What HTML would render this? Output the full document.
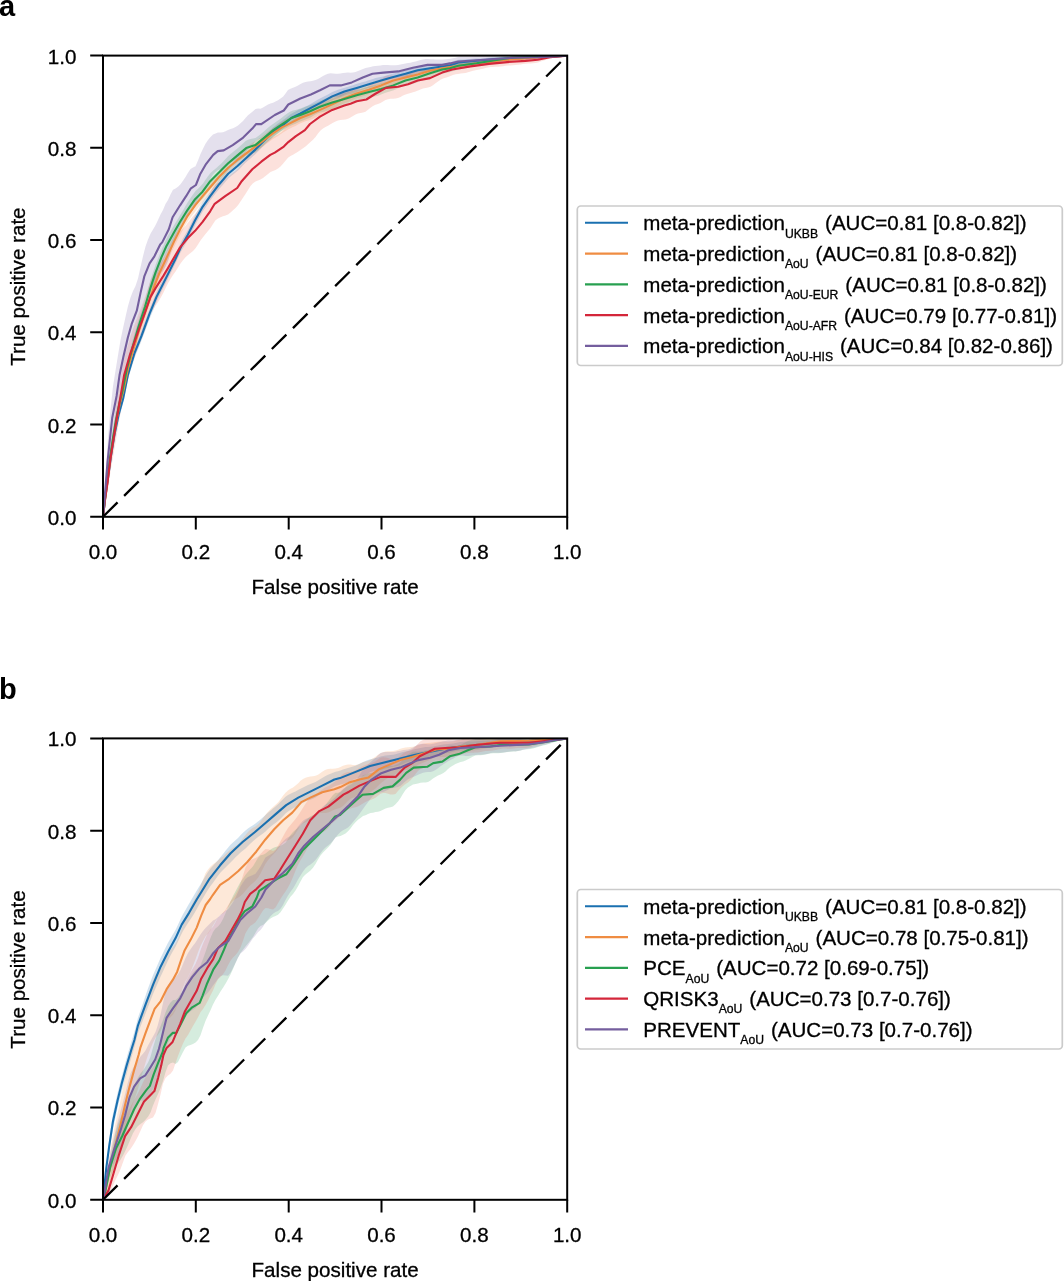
<!DOCTYPE html>
<html lang="en">
<head>
<meta charset="utf-8">
<title>ROC curves</title>
<style>
html,body{margin:0;padding:0;background:#fff;}
body{width:1064px;height:1281px;overflow:hidden;}
svg{display:block;}
svg text{stroke:#000;stroke-width:0.3px;}
</style>
</head>
<body>
<svg width="1064" height="1281" viewBox="0 0 1064 1281" font-family='"Liberation Sans", Arial, Helvetica, sans-serif' fill="#000">
<rect width="1064" height="1281" fill="#fff"/>
<text x="-1" y="15.8" font-size="29" font-weight="bold" style="stroke:none">a</text>
<text x="-1" y="699.4" font-size="29" font-weight="bold" style="stroke:none">b</text>
<clipPath id="clipa"><rect x="103" y="55.6" width="464.2" height="461.2"/></clipPath>
<g clip-path="url(#clipa)">
<polygon points="103,516.8 105.5,493.6 108,474.2 110.5,454.5 113,438.7 115.5,424.7 118,412.4 120.5,402.8 123,394 125.5,382 128,370 130.5,361.9 133,353.6 135.5,346 138,339.7 140.5,333.3 143,326.6 145.5,319.7 148,313 150.5,306.5 153,300.4 155.5,294.3 158,288.8 160.5,283.8 163,279 165.5,274.2 168,269.4 170.5,264.6 173,259.6 175.5,254.4 178,248.7 180.5,243.1 183,238.3 185.5,234 188,229.7 190.5,224.7 193,219.6 195.5,214.6 198,209.9 200.5,205.4 203,201.2 205.5,197.9 208,194.7 210.5,191.4 213,188.1 215.5,184.7 218,181.2 220.5,178 223,175.1 225.5,172.3 228,169.4 230.5,167.2 233,165 235.5,162.7 238,160.4 240.5,158 243,155.8 245.5,153.7 248,151.7 250.5,149.5 253,147.3 255.5,144.9 258,142.4 260.5,139.9 263,137.5 265.5,135.1 268,132.7 270.5,130.1 273,127.4 275.5,125.4 278,123.5 280.5,121.8 283,120.1 285.5,118.2 288,116.3 290.5,114.2 293,112.7 295.5,111.4 298,110.1 300.5,109 303,107.9 305.5,106.7 308,105.4 310.5,104 313,102.5 315.5,101 318,99.6 320.5,98.3 323,97 325.5,95.7 328,94.4 330.5,93 333,91.7 335.5,90.7 338,89.8 340.5,88.9 343,88.2 345.5,87.5 348,86.8 350.5,86 353,85.2 355.5,84.3 358,83.5 360.5,82.8 363,82.1 365.5,81.4 368,80.6 370.5,79.7 373,78.9 375.5,78.1 378,77.5 380.5,76.9 383,76.4 385.5,75.8 388,75.1 390.5,74.3 393,73.5 395.5,72.9 398,72.2 400.5,71.7 403,71.1 405.5,70.5 408,69.7 410.5,68.8 413,68 415.5,67.3 418,66.7 420.5,66.4 423,66.2 425.5,66 428,65.6 430.5,65.3 433,64.9 435.5,64.6 438,64.3 440.5,64 443,63.7 445.5,63.4 448,62.9 450.5,62.3 453,61.4 455.5,60.5 458,59.8 460.5,59.6 463,59.5 465.5,59.3 468,59.1 470.5,58.9 473,58.7 475.5,58.5 478,58.5 480.5,58.4 483,58.2 485.5,58 488,57.8 490.5,57.5 493,57.3 495.5,57.1 498,57 500.5,56.9 503,56.8 505.5,56.7 508,56.5 510.5,56.4 513,56.3 515.5,56.4 518,56.4 520.5,56.5 523,56.5 525.5,56.5 528,56.4 530.5,56.4 533,56.3 535.5,56.3 538,56.3 540.5,56.3 543,56.2 545.5,56.1 548,56.1 550.5,56 553,56 555.5,55.9 558,55.9 560.5,55.8 563,55.7 565.5,55.7 567.2,55.6 567.2,55.6 565.5,55.7 563,56 560.5,56.2 558,56.4 555.5,56.6 553,56.9 550.5,57.1 548,57.3 545.5,57.5 543,57.7 540.5,57.9 538,58.1 535.5,58.2 533,58.3 530.5,58.5 528,58.6 525.5,58.8 523,59 520.5,59.1 518,59.2 515.5,59.4 513,59.7 510.5,60 508,60.3 505.5,60.5 503,60.7 500.5,60.9 498,61.1 495.5,61.3 493,61.6 490.5,61.8 488,61.9 485.5,62.1 483,62.3 480.5,62.7 478,63 475.5,63.4 473,63.7 470.5,63.9 468,64.2 465.5,64.4 463,64.7 460.5,65 458,65.3 455.5,66.1 453,66.9 450.5,67.6 448,68.1 445.5,68.6 443,69.2 440.5,69.7 438,70.1 435.5,70.5 433,70.9 430.5,71.3 428,71.9 425.5,72.4 423,72.8 420.5,73.1 418,73.3 415.5,73.9 413,74.7 410.5,75.5 408,76.4 405.5,77.2 403,77.8 400.5,78.4 398,79.1 395.5,79.9 393,80.8 390.5,81.7 388,82.4 385.5,83 383,83.6 380.5,84.3 378,85.1 375.5,85.9 373,86.7 370.5,87.4 368,88 365.5,88.7 363,89.6 360.5,90.6 358,91.6 355.5,92.5 353,93.2 350.5,93.9 348,94.5 345.5,95.3 343,96.3 340.5,97.3 338,98.3 335.5,99.1 333,99.9 330.5,101.1 328,102.6 325.5,104.2 323,105.7 320.5,107.2 318,108.5 315.5,109.8 313,111.2 310.5,112.6 308,114.1 305.5,115.6 303,116.8 300.5,118 298,119 295.5,120.1 293,121.4 290.5,123.1 288,125.3 285.5,127.4 283,129.4 280.5,131.2 278,133 275.5,134.9 273,136.9 270.5,139.4 268,141.8 265.5,144.1 263,146.4 260.5,148.9 258,151.4 255.5,154 253,156.2 250.5,158.4 248,160.5 245.5,162.8 243,165.3 240.5,167.9 238,170.4 235.5,172.6 233,174.6 230.5,176.6 228,178.7 225.5,181.7 223,184.7 220.5,187.6 218,190.5 215.5,193.6 213,196.8 210.5,200.1 208,203.7 205.5,207.4 203,211.1 200.5,215.5 198,219.9 195.5,224.4 193,229.4 190.5,234.6 188,239.7 185.5,244.1 183,248.2 180.5,252.6 178,257.9 175.5,263.3 173,268.5 170.5,273.7 168,278.8 165.5,283.7 163,288.6 160.5,293.7 158,298.8 155.5,304.5 153,310.8 150.5,316.8 148,323.2 145.5,329.9 143,336.6 140.5,343.2 138,349.4 135.5,355.5 133,362.9 130.5,371 128,379.2 125.5,391.5 123,403.8 120.5,413 118,422.8 115.5,435 113,448.9 110.5,464.8 108,481.6 105.5,497.4 103,516.8" fill="#1a70b0" fill-opacity="0.2" stroke="none"/>
<polygon points="103,516.8 105.5,494 108,472.3 110.5,450.2 113,434.6 115.5,419.7 118,406.6 120.5,395.3 123,386.1 125.5,374.6 128,362.6 130.5,353.8 133,345 135.5,336.7 138,328.5 140.5,320.5 143,313 145.5,305.4 148,297.9 150.5,290.4 153,283.2 155.5,276.8 158,270.6 160.5,264.9 163,259.5 165.5,254.1 168,248.6 170.5,243.3 173,238.1 175.5,233.1 178,228.3 180.5,223.3 183,218.6 185.5,213.9 188,209.3 190.5,205.7 193,202.2 195.5,198.9 198,195.9 200.5,192.8 203,189.7 205.5,186.6 208,183.7 210.5,180.9 213,178.3 215.5,175.6 218,172.9 220.5,170.2 223,167.6 225.5,164.9 228,162.2 230.5,160.1 233,158 235.5,156 238,153.9 240.5,151.9 243,149.8 245.5,147.8 248,145.9 250.5,144.2 253,142.6 255.5,141 258,139.3 260.5,137.4 263,135.4 265.5,133.5 268,131.6 270.5,129.8 273,128 275.5,126.4 278,124.6 280.5,122.7 283,120.9 285.5,119.5 288,118.2 290.5,117.1 293,116.1 295.5,115 298,113.9 300.5,112.6 303,111.6 305.5,110.7 308,109.8 310.5,109 313,108.1 315.5,107 318,105.8 320.5,104.5 323,103.2 325.5,101.9 328,100.8 330.5,99.8 333,98.8 335.5,97.7 338,96.5 340.5,95.2 343,94 345.5,93 348,92.2 350.5,91.4 353,90.6 355.5,89.7 358,88.7 360.5,87.8 363,86.9 365.5,86 368,85.3 370.5,84.6 373,83.8 375.5,82.9 378,82 380.5,81 383,80.1 385.5,79.2 388,78.4 390.5,77.7 393,76.9 395.5,76.3 398,75.6 400.5,74.9 403,74.2 405.5,73.6 408,73 410.5,72.5 413,71.9 415.5,71.2 418,70.5 420.5,69.7 423,69 425.5,68.4 428,67.9 430.5,67.4 433,67 435.5,66.6 438,66.1 440.5,65.5 443,65.1 445.5,64.8 448,64.5 450.5,64.2 453,63.9 455.5,63.5 458,63.1 460.5,62.6 463,62.3 465.5,62.1 468,61.8 470.5,61.6 473,61.3 475.5,61 478,60.7 480.5,60.5 483,60.4 485.5,60.3 488,60.1 490.5,59.9 493,59.5 495.5,59.1 498,58.6 500.5,58.3 503,58.1 505.5,58 508,57.9 510.5,57.9 513,57.7 515.5,57.6 518,57.5 520.5,57.4 523,57.3 525.5,57.2 528,57.2 530.5,57.1 533,56.9 535.5,56.8 538,56.6 540.5,56.5 543,56.4 545.5,56.3 548,56.2 550.5,56.1 553,56.1 555.5,56 558,55.9 560.5,55.8 563,55.7 565.5,55.7 567.2,55.6 567.2,55.6 565.5,55.8 563,56 560.5,56.2 558,56.5 555.5,56.7 553,57 550.5,57.2 548,57.4 545.5,57.6 543,57.8 540.5,58.1 538,58.3 535.5,58.6 533,58.9 530.5,59.1 528,59.3 525.5,59.6 523,59.9 520.5,60.2 518,60.6 515.5,60.8 513,61.1 510.5,61.3 508,61.5 505.5,61.8 503,62.1 500.5,62.4 498,62.8 495.5,63.1 493,63.4 490.5,63.9 488,64.3 485.5,64.7 483,65.1 480.5,65.4 478,65.7 475.5,66 473,66.5 470.5,66.9 468,67.4 465.5,67.8 463,68.1 460.5,68.3 458,68.6 455.5,69 453,69.5 450.5,70 448,70.4 445.5,70.8 443,71.2 440.5,71.8 438,72.5 435.5,73.2 433,73.9 430.5,74.4 428,74.9 425.5,75.5 423,76.2 420.5,77 418,77.9 415.5,78.6 413,79.2 410.5,79.8 408,80.4 405.5,81.2 403,82.1 400.5,83 398,83.7 395.5,84.3 393,84.9 390.5,85.8 388,86.8 385.5,87.9 383,89 380.5,89.9 378,90.6 375.5,91.4 373,92.2 370.5,93.3 368,94.4 365.5,95.4 363,96.3 360.5,97 358,97.7 355.5,98.6 353,99.8 350.5,100.9 348,102 345.5,102.8 343,103.7 340.5,104.8 338,106 335.5,107.4 333,108.9 330.5,110.2 328,111.3 325.5,112.4 323,113.6 320.5,114.9 318,116.3 315.5,117.6 313,118.8 310.5,119.7 308,120.5 305.5,121.2 303,122.2 300.5,123.3 298,124.6 295.5,125.9 293,127 290.5,128.2 288,129.5 285.5,131 283,132.5 280.5,134.3 278,136 275.5,137.5 273,139 270.5,140.8 268,142.7 265.5,144.6 263,146.5 260.5,148.2 258,149.8 255.5,151.5 253,153.4 250.5,155.6 248,157.8 245.5,159.8 243,161.7 240.5,163.5 238,165.4 235.5,167.5 233,169.7 230.5,171.9 228,173.9 225.5,176.1 223,178.3 220.5,180.6 218,183.4 215.5,186.5 213,189.6 210.5,192.6 208,195.5 205.5,198.4 203,201.4 200.5,204.7 198,208 195.5,211.2 193,214.5 190.5,217.7 188,220.9 185.5,225.1 183,229.7 180.5,234.3 178,239.2 175.5,244.2 173,249.2 170.5,254.6 168,260.2 165.5,266 163,271.7 160.5,277.2 158,282.9 155.5,289.1 153,295.4 150.5,302.7 148,310.1 145.5,317.4 143,324.6 140.5,331.6 138,339.4 135.5,347.7 133,356.3 130.5,365.5 128,374.6 125.5,386.7 123,398 120.5,407.2 118,418.8 115.5,432.3 113,447.5 110.5,463.2 108,481.3 105.5,498.3 103,516.8" fill="#f58a3c" fill-opacity="0.2" stroke="none"/>
<polygon points="103,516.8 105.5,492 108,469.2 110.5,447.1 113,430.3 115.5,415.4 118,402.9 120.5,391.8 123,381.4 125.5,368.9 128,357.4 130.5,348 133,338.8 135.5,330.2 138,321.6 140.5,313.9 143,306 145.5,297.9 148,289 150.5,280.1 153,272.4 155.5,264.9 158,258.6 160.5,252.3 163,246.4 165.5,240.7 168,235.6 170.5,231.2 173,226.9 175.5,222.8 178,218.7 180.5,214.5 183,210.4 185.5,206.1 188,201.8 190.5,198 193,194.4 195.5,191.1 198,188.7 200.5,186.2 203,183.4 205.5,179.8 208,176.3 210.5,173 213,170.8 215.5,168.7 218,166.6 220.5,164.3 223,161.7 225.5,159 228,156.3 230.5,154.1 233,152 235.5,150 238,147.9 240.5,145.7 243,143.4 245.5,141.1 248,139.8 250.5,139.1 253,138.6 255.5,138 258,136.2 260.5,134.3 263,132.2 265.5,130 268,127.8 270.5,125.8 273,123.9 275.5,122.3 278,120.6 280.5,118.8 283,116.8 285.5,114.8 288,113 290.5,111.4 293,110.5 295.5,110 298,109.3 300.5,108.6 303,107.6 305.5,106.6 308,105.7 310.5,105 313,104.1 315.5,103.1 318,102 320.5,100.7 323,99.5 325.5,98.4 328,97.5 330.5,96.7 333,96 335.5,95.4 338,94.8 340.5,94 343,93.2 345.5,92.5 348,92 350.5,91.5 353,91 355.5,90.5 358,89.8 360.5,89 363,88.1 365.5,87.3 368,86.7 370.5,86.1 373,85.6 375.5,85 378,84.4 380.5,83.6 383,82.9 385.5,82.2 388,81.6 390.5,81.2 393,80.7 395.5,79.9 398,78.9 400.5,77.8 403,76.7 405.5,75.7 408,75.1 410.5,74.6 413,74.1 415.5,73.5 418,72.7 420.5,71.7 423,70.8 425.5,70 428,69.4 430.5,68.8 433,68.3 435.5,67.6 438,66.9 440.5,66.1 443,65.5 445.5,65.2 448,65 450.5,64.6 453,63.9 455.5,63.1 458,62.3 460.5,61.8 463,61.4 465.5,61.2 468,61 470.5,60.8 473,60.6 475.5,60.4 478,60 480.5,59.7 483,59.3 485.5,59.1 488,58.8 490.5,58.5 493,58.2 495.5,57.8 498,57.3 500.5,56.8 503,56.5 505.5,56.2 508,56 510.5,55.7 513,55.7 515.5,55.6 518,55.6 520.5,55.6 523,55.6 525.5,55.7 528,55.7 530.5,55.8 533,55.7 535.5,55.7 538,55.6 540.5,55.6 543,55.6 545.5,55.6 548,55.6 550.5,55.6 553,55.6 555.5,55.6 558,55.6 560.5,55.6 563,55.6 565.5,55.6 567.2,55.6 567.2,55.6 565.5,55.7 563,55.9 560.5,56.1 558,56.3 555.5,56.4 553,56.6 550.5,56.8 548,57 545.5,57.2 543,57.4 540.5,57.6 538,57.8 535.5,58 533,58.3 530.5,58.5 528,58.7 525.5,58.8 523,58.9 520.5,59 518,59.2 515.5,59.5 513,59.7 510.5,59.9 508,60.4 505.5,60.8 503,61.3 500.5,62 498,62.6 495.5,63.1 493,63.5 490.5,63.9 488,64.2 485.5,64.7 483,65.2 480.5,65.7 478,66.1 475.5,66.4 473,66.7 470.5,67.1 468,67.6 465.5,68.1 463,68.7 460.5,69.2 458,69.6 455.5,70.4 453,71.1 450.5,72 448,72.6 445.5,73.1 443,73.4 440.5,73.9 438,74.5 435.5,75.2 433,76.2 430.5,77.2 428,78.2 425.5,79.2 423,80.1 420.5,81 418,82 415.5,82.9 413,83.7 410.5,84.4 408,84.9 405.5,85.3 403,86.2 400.5,87.2 398,88.3 395.5,89.5 393,90.5 390.5,91.2 388,91.9 385.5,92.7 383,93.7 380.5,94.8 378,95.7 375.5,96.3 373,96.8 370.5,97.3 368,97.8 365.5,98.4 363,99.2 360.5,99.8 358,100.4 355.5,100.9 353,101.5 350.5,102.3 348,103.4 345.5,104.5 343,105.5 340.5,106.3 338,107 335.5,107.6 333,108.4 330.5,109.4 328,110.4 325.5,111.2 323,111.9 320.5,112.5 318,113.3 315.5,114.5 313,115.9 310.5,117.4 308,118.5 305.5,119.5 303,120.4 300.5,121.5 298,122.5 295.5,123.7 293,124.7 290.5,125.7 288,127.1 285.5,128.4 283,129.9 280.5,131.6 278,133.4 275.5,135.2 273,136.9 270.5,138.9 268,140.9 265.5,143.2 263,145.7 260.5,148.1 258,150.4 255.5,152.4 253,153.1 250.5,153.7 248,154.4 245.5,155.7 243,157.9 240.5,159.9 238,161.8 235.5,163.6 233,165.6 230.5,168 228,170.5 225.5,173.4 223,176.1 220.5,178.6 218,180.9 215.5,183.4 213,186 210.5,188.7 208,192.1 205.5,195.3 203,198.4 200.5,200.7 198,203.1 195.5,205.7 193,209.4 190.5,213.2 188,216.8 185.5,220.6 183,224.5 180.5,228.7 178,233.2 175.5,237.9 173,242.3 170.5,246.5 168,250.5 165.5,255.1 163,260.6 160.5,266.7 158,273.2 155.5,279.7 153,287.2 150.5,294.6 148,303.1 145.5,311.9 143,320.2 140.5,328.2 138,336.1 135.5,344.6 133,353.1 130.5,362.1 128,371.5 125.5,382.9 123,395.5 120.5,405.8 118,416.9 115.5,429.4 113,444.4 110.5,461.4 108,479.5 105.5,497.1 103,516.8" fill="#2f9e5a" fill-opacity="0.2" stroke="none"/>
<polygon points="103,516.8 105.5,491.8 108,468.7 110.5,445.9 113,427.2 115.5,408.9 118,393.6 120.5,379.2 123,364.7 125.5,353.6 128,344.9 130.5,336.2 133,329.1 135.5,322.1 138,315.4 140.5,309.1 143,302.6 145.5,295.7 148,288.2 150.5,280.5 153,275.3 155.5,270.4 158,266.4 160.5,262.7 163,259.2 165.5,255.2 168,250.9 170.5,246.3 173,241.8 175.5,237.9 178,234.3 180.5,231.1 183,228.7 185.5,225.9 188,222.6 190.5,219.4 193,216.3 195.5,213.4 198,210.4 200.5,207.5 203,204.3 205.5,200.4 208,196.2 210.5,191.9 213,187.3 215.5,184 218,182.8 220.5,181.7 223,180.6 225.5,179 228,177 230.5,174.8 233,172.7 235.5,170.9 238,168.7 240.5,165.2 243,162.4 245.5,159.7 248,156.7 250.5,153.8 253,150.9 255.5,149 258,147.4 260.5,146 263,144.4 265.5,142.5 268,140.3 270.5,138.1 273,136.9 275.5,135.8 278,134.5 280.5,133 283,131.1 285.5,128.1 288,124.8 290.5,122 293,119.8 295.5,118.1 298,117 300.5,115.9 303,114.4 305.5,112.4 308,109.2 310.5,106.6 313,105.6 315.5,104.8 318,103.9 320.5,102.9 323,101.7 325.5,100.1 328,98.1 330.5,96.4 333,95.1 335.5,94.5 338,94 340.5,93.4 343,92.6 345.5,91.6 348,90.9 350.5,90.4 353,90 355.5,89.7 358,89.6 360.5,89.4 363,88.9 365.5,88.1 368,86.5 370.5,84.7 373,83.2 375.5,81.9 378,80.7 380.5,79.3 383,77.7 385.5,76 388,75.5 390.5,75.5 393,75.8 395.5,76.3 398,76.6 400.5,76.2 403,75.6 405.5,74.7 408,74 410.5,73.1 413,72.3 415.5,71.6 418,70.8 420.5,70.4 423,69.8 425.5,69.4 428,69.1 430.5,69.1 433,68.6 435.5,68.2 438,67.7 440.5,67 443,66 445.5,65.3 448,64.7 450.5,64.2 453,63.8 455.5,63.6 458,63.3 460.5,62.8 463,62.2 465.5,61.7 468,61.4 470.5,61.2 473,61.2 475.5,61.1 478,61 480.5,60.8 483,60.6 485.5,60.4 488,60.3 490.5,60.2 493,60.1 495.5,60 498,59.7 500.5,59.4 503,59 505.5,58.7 508,58.4 510.5,58.3 513,58.3 515.5,58.2 518,58 520.5,57.8 523,57.7 525.5,57.6 528,57.5 530.5,57.4 533,57.3 535.5,57.2 538,57 540.5,56.7 543,56.5 545.5,56.3 548,56.1 550.5,56 553,55.9 555.5,55.9 558,55.8 560.5,55.7 563,55.7 565.5,55.6 567.2,55.6 567.2,55.6 565.5,55.9 563,56.3 560.5,56.7 558,57.1 555.5,57.5 553,58 550.5,58.4 548,59.2 545.5,60 543,60.8 540.5,61.6 538,62.5 535.5,63 533,63.2 530.5,63.4 528,63.5 525.5,63.8 523,64 520.5,64.4 518,64.8 515.5,65.1 513,65.3 510.5,65.4 508,65.5 505.5,65.8 503,66.2 500.5,66.5 498,66.7 495.5,66.8 493,66.9 490.5,67.1 488,67.5 485.5,68.1 483,68.8 480.5,69.3 478,69.8 475.5,70.2 473,70.8 470.5,71.5 468,72.2 465.5,72.9 463,73.3 460.5,73.6 458,73.9 455.5,74.3 453,75 450.5,75.9 448,76.9 445.5,77.7 443,78.5 440.5,79.7 438,81.4 435.5,83.3 433,85.2 430.5,86.8 428,87.6 425.5,88.1 423,88.6 420.5,89.5 418,90.4 415.5,91.5 413,92.3 410.5,93 408,93.7 405.5,94.4 403,95.6 400.5,97 398,98.1 395.5,98.6 393,98.7 390.5,98.8 388,99.2 385.5,100 383,101.6 380.5,103 378,104 375.5,104.8 373,106 370.5,107.7 368,109.8 365.5,111.7 363,112.5 360.5,113.1 358,113.5 355.5,114.4 353,115.9 350.5,117.5 348,118.7 345.5,119.4 343,119.7 340.5,119.9 338,120.5 335.5,121.4 333,122.7 330.5,124.3 328,125.7 325.5,126.9 323,128.5 320.5,130.6 318,133.6 315.5,136.9 313,139.7 310.5,142 308,144.2 305.5,146.5 303,148.2 300.5,149.9 298,151.8 295.5,153.3 293,154.8 290.5,156.1 288,157.8 285.5,160.7 283,163.8 280.5,166.4 278,168.5 275.5,170.1 273,171.1 270.5,172.1 268,174 265.5,176.1 263,178 260.5,179.4 258,180.5 255.5,181.6 253,183.2 250.5,186 248,190 245.5,194.1 243,197.7 240.5,201.4 238,205.2 235.5,207.9 233,210.3 230.5,212.6 228,214.5 225.5,215.6 223,216.3 220.5,217.2 218,218.5 215.5,220.3 213,223.9 210.5,228 208,231 205.5,233.9 203,237.2 200.5,240.6 198,244.5 195.5,248.3 193,251 190.5,253.1 188,254.9 185.5,257.3 183,260.3 180.5,263.6 178,267.6 175.5,271.5 173,275.1 170.5,278.9 168,283.3 165.5,288.2 163,293.4 160.5,298.1 158,302.2 155.5,305.8 153,309.8 150.5,314.1 148,321.5 145.5,328.9 143,335.8 140.5,342.1 138,348.1 135.5,354.5 133,361.6 130.5,369.2 128,378.3 125.5,387.3 123,398.5 120.5,413 118,427.5 115.5,442.8 113,457.4 110.5,471.3 108,489.1 105.5,501.6 103,516.8" fill="#f26a52" fill-opacity="0.2" stroke="none"/>
<polygon points="103,516.8 105.5,477.8 108,437.3 110.5,409.8 113,386.3 115.5,370.7 118,355.2 120.5,340.2 123,328.3 125.5,316.9 128,305.9 130.5,297.4 133,290.9 135.5,286 138,278.4 140.5,267.2 143,256.2 145.5,246.6 148,239.6 150.5,233.7 153,229.6 155.5,225.2 158,220 160.5,214.6 163,210 165.5,204 168,199.9 170.5,194.6 173,189.8 175.5,188.4 178,186.8 180.5,184.3 183,180.8 185.5,176.9 188,172.8 190.5,169 193,167.6 195.5,166.2 198,160.6 200.5,154 203,148.8 205.5,143.7 208,140 210.5,136.9 213,134.5 215.5,133.4 218,132.4 220.5,132.5 223,132.3 225.5,131.2 228,130 230.5,129.1 233,128.3 235.5,127.1 238,125.4 240.5,123.3 243,120.9 245.5,117.9 248,115.3 250.5,113.2 253,111.2 255.5,108.9 258,108.6 260.5,108.7 263,107.5 265.5,105.9 268,104.6 270.5,103.6 273,102.7 275.5,101.6 278,100.3 280.5,98.6 283,96.7 285.5,93.5 288,90 290.5,88.7 293,87.7 295.5,86.7 298,85.4 300.5,83.9 303,82.8 305.5,81.9 308,81.5 310.5,81.2 313,80.8 315.5,80.1 318,79 320.5,77.5 323,76 325.5,74.7 328,73.7 330.5,73.2 333,73.6 335.5,73.7 338,73.7 340.5,73.6 343,73 345.5,72.7 348,72.6 350.5,72.8 353,72.6 355.5,71.9 358,71 360.5,69.9 363,68.9 365.5,68.1 368,67.5 370.5,66.9 373,66.3 375.5,66.1 378,65.8 380.5,65.4 383,65 385.5,64.9 388,65 390.5,65.2 393,65.3 395.5,65.2 398,65 400.5,64.5 403,63.9 405.5,63.4 408,63.1 410.5,62.7 413,62.1 415.5,61.5 418,60.8 420.5,60.1 423,59.5 425.5,59.1 428,59 430.5,59.2 433,59.3 435.5,59.4 438,59.4 440.5,59.5 443,59.5 445.5,59.2 448,59.1 450.5,58.8 453,58.3 455.5,57.7 458,56.9 460.5,56.6 463,56.5 465.5,56.4 468,56.4 470.5,56.4 473,56.3 475.5,56.1 478,55.9 480.5,55.8 483,55.9 485.5,56 488,56.1 490.5,56.1 493,56 495.5,55.8 498,55.6 500.5,55.5 503,55.4 505.5,55.3 508,55.3 510.5,55.2 513,55 515.5,54.9 518,54.9 520.5,54.9 523,55.1 525.5,55.3 528,55.4 530.5,55.5 533,55.6 535.5,55.6 538,55.7 540.5,55.7 543,55.7 545.5,55.7 548,55.7 550.5,55.7 553,55.7 555.5,55.6 558,55.6 560.5,55.6 563,55.6 565.5,55.6 567.2,55.6 567.2,55.6 565.5,55.8 563,56.1 560.5,56.4 558,56.6 555.5,56.9 553,57.1 550.5,57.4 548,57.7 545.5,57.9 543,58.2 540.5,58.4 538,58.6 535.5,58.8 533,59.1 530.5,59.4 528,59.7 525.5,59.9 523,60 520.5,60.1 518,60.3 515.5,60.4 513,60.6 510.5,60.9 508,61 505.5,61.1 503,61.3 500.5,61.6 498,61.9 495.5,62.4 493,62.8 490.5,63 488,63.2 485.5,63.5 483,63.8 480.5,64.2 478,64.5 475.5,64.7 473,64.7 470.5,64.7 468,64.8 465.5,65.1 463,65.5 460.5,65.9 458,66.3 455.5,66.9 453,67.5 450.5,68.2 448,69 445.5,69.8 443,70.5 440.5,70.6 438,70.4 435.5,70.2 433,70.1 430.5,70.2 428,70.4 425.5,70.9 423,71.3 420.5,71.7 418,72.2 415.5,72.9 413,73.8 410.5,74.9 408,75.7 405.5,76.3 403,76.8 400.5,77.3 398,77.9 395.5,78.3 393,78.6 390.5,78.7 388,78.7 385.5,78.7 383,78.9 380.5,79.5 378,80.4 375.5,81.3 373,81.9 370.5,82.9 368,84 365.5,85.2 363,86.5 360.5,88.1 358,89.5 355.5,90.5 353,91.3 350.5,91.9 348,92.7 345.5,93.9 343,95.3 340.5,96.4 338,96.7 335.5,96.9 333,97.1 330.5,97.7 328,99.5 325.5,101.5 323,103.1 320.5,104.1 318,104.7 315.5,105.3 313,106.4 310.5,107.8 308,109 305.5,110 303,110.7 300.5,111.4 298,112.8 295.5,114.7 293,116.8 290.5,118.7 288,120.3 285.5,123.3 283,125.5 280.5,126.5 278,127.9 275.5,129.4 273,131 270.5,132.3 268,133.4 265.5,134.8 263,136.7 260.5,138.7 258,139.6 255.5,140.9 253,144.2 250.5,146.8 248,149.3 245.5,152.2 243,155.3 240.5,157.6 238,159.4 235.5,160.5 233,161.6 230.5,162.7 228,164.5 225.5,166.8 223,168.9 220.5,169.6 218,170 215.5,171.9 213,174.6 210.5,178.7 208,182.8 205.5,186.6 203,190.6 200.5,193.9 198,199.1 195.5,204.2 193,206.1 190.5,208.6 188,213.3 185.5,217.5 183,221.1 180.5,225.1 178,230.8 175.5,237.4 173,244.1 170.5,253.5 168,261.4 165.5,266.7 163,270.8 160.5,273.6 158,278.4 155.5,283.3 153,286.7 150.5,288.8 148,292.9 145.5,298.9 143,308.7 140.5,321.2 138,334.6 135.5,344.4 133,350.7 130.5,357.9 128,366.9 125.5,378.4 123,390.2 120.5,402.3 118,416.8 115.5,430.1 113,438.2 110.5,454.9 108,476 105.5,497 103,516.8" fill="#7a62a6" fill-opacity="0.2" stroke="none"/>
<polyline points="103,516.8 105.3,497 108,478 111,456 114.5,434.5 118.5,415 123.3,397.9 127.8,375.3 134.6,352.8 141.4,336.2 149.6,313.7 156.4,297.1 163.2,283.6 169.2,271.6 175.2,259.5 181.4,246 187.6,235.3 195.1,220.3 202.6,206.8 210.2,196.2 219.2,184.2 228.2,173.7 237.2,166.2 246.2,157.9 255.3,149.6 264.3,140.6 273.3,131.6 282.3,125.6 291.4,118 300.4,113.5 310,108.3 320,103.1 332.2,96.4 344.4,91.5 356.7,87.9 368.9,84.2 381.1,80.5 393.3,76.9 405.5,73.8 417.7,70.2 430,68.3 442.2,66.5 450,65.3 458.3,62.5 476.6,60.8 495,59.3 513.3,58 537.7,57.2 550,56.6 567.2,55.6" fill="none" stroke="#1a70b0" stroke-width="2.1" stroke-linejoin="round"/>
<polyline points="103,516.8 105,500 107.5,481 110.3,458 113.5,438 116.5,420 120,403 123.5,390 128,368.5 133.5,349 139.8,328 147,307 153,289.5 159,274 166.5,257.9 174.1,241.4 180.1,229.3 187.6,215.8 195.1,205.3 202.6,196.2 210.2,187.2 219.2,176.7 228.2,167.7 237.2,160.2 246.2,153.4 255.3,146.6 264.3,139.8 273.3,133.1 282.3,127.1 291.4,122.6 300.4,118 310,114.3 320,109.9 332.2,104.4 344.4,98.3 356.7,93.4 368.9,89.7 381.1,85.4 393.3,80.5 405.5,77.5 417.7,74.4 430,70.8 442.2,68.3 450,67.1 458.3,66 476.6,63.3 488.9,62.1 501.1,60.3 525.5,58.4 545,57 567.2,55.6" fill="none" stroke="#ef8c42" stroke-width="2.1" stroke-linejoin="round"/>
<polyline points="103,516.8 104.8,500 107.2,481 110,458 113,438 116,420 119.5,403 122.6,390.4 127.1,367.8 132.3,348.3 138.3,327.2 145.1,306.2 150.4,288.1 155.6,272.3 161.5,257.2 166.5,245.9 174.1,232.3 180.1,221.8 187.6,209.8 195.1,199.2 202.6,191.7 210.2,181.2 219.2,172.2 228.2,163.2 237.2,155.6 246.2,148.1 255.3,145.1 264.3,137.6 273.3,130.1 282.3,124.1 291.4,118 300.4,115 310,111.3 320,106.8 332.2,102.5 344.4,98.9 356.7,95.2 368.9,92.1 381.1,89.1 393.3,85.4 405.5,80.5 417.7,77.5 430,73.2 442.2,69.5 450,68.3 458.3,65.8 476.6,63.3 495,60.3 510.9,57.8 525.5,57.2 545,56.4 567.2,55.6" fill="none" stroke="#28a050" stroke-width="2.1" stroke-linejoin="round"/>
<polyline points="103,516.8 105,500 107.6,481.5 110.5,458 113.5,439 116.5,420 120.3,397.9 124.1,375.3 130.1,354.3 137.6,333.2 145.1,312.2 150.4,297.1 155.6,288.1 163.2,276.1 167.7,268.6 173.5,258.5 180.1,247.4 187.6,238.3 195.1,230.8 202.6,221.8 210.2,211.3 214.7,203.8 225.2,196.2 237.2,188 241.7,181.2 252.3,169.2 261.3,161.7 270.3,154.9 274.8,152.6 283.8,146.6 288.3,142.1 295.9,136.1 304.9,130.1 310,124 320,116.6 332.2,109.9 344.4,105.6 350.5,103.8 356.7,101.3 366.4,99.5 375,94 386,87.9 398.2,86.7 408,84.2 417.7,80.5 430,78.1 442.2,72.6 452.2,69.5 470.5,66.4 488.9,63.9 507.2,62.1 525.5,60.9 537.7,59.7 550,57.2 567.2,55.6" fill="none" stroke="#d4263a" stroke-width="2.1" stroke-linejoin="round"/>
<polyline points="103,516.8 104.1,505 107.5,462 112.2,418 116.6,396 119.5,375.3 123.3,357.3 127.8,337.7 131.6,324.2 136.8,310.7 140.6,292.6 144.4,276.1 149.6,263.3 154.4,256.3 160.2,244.5 162.2,242.4 168.8,229.3 172.6,217.3 180.1,205.3 186.1,196.2 190.6,188.7 195.9,185 200.4,173.7 205.6,164.7 213.2,154.9 217.7,151.1 223.7,150.4 232.7,145.1 243.2,137.6 252.3,128.6 256,124.1 261.3,124.1 274.8,115 283.8,110.5 288.3,104.5 294.4,101.5 300.4,98.5 310.9,94.5 320,90.3 329.8,85.4 340.8,85.4 351.8,82.4 362.8,77.5 372.5,73.8 383.5,72.6 398.2,71.4 412.9,67.7 427.5,64.9 442.2,64.9 450,63.4 458.3,61.5 476.6,60.3 495,59 513.3,57.8 537.7,57.2 550,56.6 567.2,55.6" fill="none" stroke="#745e9e" stroke-width="2.1" stroke-linejoin="round"/>
</g>
<line x1="103" y1="516.8" x2="567.2" y2="55.6" stroke="#000" stroke-width="2.3" stroke-dasharray="20.5 9.25"/>
<rect x="103" y="55.6" width="464.2" height="461.2" fill="none" stroke="#000" stroke-width="2.0"/>
<path d="M103 516.8v12.8M103 516.8h-12.8M195.8 516.8v12.8M103 424.6h-12.8M288.7 516.8v12.8M103 332.3h-12.8M381.5 516.8v12.8M103 240.1h-12.8M474.4 516.8v12.8M103 147.8h-12.8M567.2 516.8v12.8M103 55.6h-12.8" stroke="#000" stroke-width="2.0" fill="none"/>
<g font-size="20.6" text-anchor="middle">
<text x="103" y="559.1">0.0</text>
<text x="195.8" y="559.1">0.2</text>
<text x="288.7" y="559.1">0.4</text>
<text x="381.5" y="559.1">0.6</text>
<text x="474.4" y="559.1">0.8</text>
<text x="567.2" y="559.1">1.0</text>
</g>
<g font-size="20.6" text-anchor="end">
<text x="76.4" y="524.7">0.0</text>
<text x="76.4" y="432.5">0.2</text>
<text x="76.4" y="340.2">0.4</text>
<text x="76.4" y="248">0.6</text>
<text x="76.4" y="155.7">0.8</text>
<text x="76.4" y="63.5">1.0</text>
</g>
<text x="335.1" y="593.5" font-size="20.6" text-anchor="middle">False positive rate</text>
<text transform="translate(24.9 286.6) rotate(-90)" font-size="20.6" text-anchor="middle">True positive rate</text>
<rect x="577.3" y="206" width="485" height="159.5" rx="3.5" fill="#fff" stroke="#cbcbcb" stroke-width="1.7"/>
<line x1="585" y1="222.8" x2="628" y2="222.8" stroke="#1a70b0" stroke-width="2.1"/>
<text x="643.3" y="230.3" font-size="20.55">meta-prediction<tspan dy="7.3" font-size="12.2">UKBB</tspan><tspan dy="-7.3" dx="1.2"> (AUC=0.81 [0.8-0.82])</tspan></text>
<line x1="585" y1="253.6" x2="628" y2="253.6" stroke="#ef8c42" stroke-width="2.1"/>
<text x="643.3" y="261.1" font-size="20.55">meta-prediction<tspan dy="7.3" font-size="12.2">AoU</tspan><tspan dy="-7.3" dx="1.2"> (AUC=0.81 [0.8-0.82])</tspan></text>
<line x1="585" y1="284.4" x2="628" y2="284.4" stroke="#28a050" stroke-width="2.1"/>
<text x="643.3" y="291.9" font-size="20.55">meta-prediction<tspan dy="7.3" font-size="12.2">AoU-EUR</tspan><tspan dy="-7.3" dx="1.2"> (AUC=0.81 [0.8-0.82])</tspan></text>
<line x1="585" y1="315.1" x2="628" y2="315.1" stroke="#d4263a" stroke-width="2.1"/>
<text x="643.3" y="322.6" font-size="20.55">meta-prediction<tspan dy="7.3" font-size="12.2">AoU-AFR</tspan><tspan dy="-7.3" dx="1.2"> (AUC=0.79 [0.77-0.81])</tspan></text>
<line x1="585" y1="345.9" x2="628" y2="345.9" stroke="#745e9e" stroke-width="2.1"/>
<text x="643.3" y="353.4" font-size="20.55">meta-prediction<tspan dy="7.3" font-size="12.2">AoU-HIS</tspan><tspan dy="-7.3" dx="1.2"> (AUC=0.84 [0.82-0.86])</tspan></text>
<clipPath id="clipb"><rect x="103" y="738.4" width="464.2" height="461.4"/></clipPath>
<g clip-path="url(#clipb)">
<polygon points="103,1199.8 105.5,1173.1 108,1149.7 110.5,1129.8 113,1113.4 115.5,1102.1 118,1091.1 120.5,1081.1 123,1071.4 125.5,1062 128,1053.1 130.5,1044.6 133,1036.5 135.5,1027.7 138,1017.6 140.5,1010.5 143,1003.2 145.5,995.8 148,988.6 150.5,981.8 153,975.3 155.5,969.5 158,963.8 160.5,957.9 163,952.9 165.5,947.8 168,942.8 170.5,938.4 173,934.2 175.5,930.1 178,924.8 180.5,919.3 183,914.3 185.5,909.9 188,905.5 190.5,901.2 193,896.9 195.5,892.7 198,888.6 200.5,884.5 203,880.3 205.5,876.1 208,872 210.5,868.6 213,865.8 215.5,863.1 218,860.2 220.5,857.1 223,854 225.5,850.8 228,847.7 230.5,844.8 233,842.5 235.5,840.3 238,837.9 240.5,835.3 243,832.8 245.5,830.5 248,828.5 250.5,826.8 253,825.2 255.5,823.5 258,821.6 260.5,819.5 263,817.2 265.5,814.9 268,812.7 270.5,810.7 273,808.6 275.5,806.5 278,804.2 280.5,801.7 283,799.2 285.5,796.8 288,795.1 290.5,793.8 293,792.6 295.5,791.4 298,790 300.5,788.7 303,787.4 305.5,786.2 308,785.1 310.5,784.1 313,783.1 315.5,781.9 318,780.5 320.5,779 323,777.4 325.5,775.9 328,774.7 330.5,773.7 333,772.7 335.5,771.8 338,771.2 340.5,770.5 343,769.5 345.5,768.7 348,768 350.5,767.3 353,766.6 355.5,765.7 358,764.5 360.5,763.3 363,762.1 365.5,761 368,760 370.5,759.2 373,758.7 375.5,758.1 378,757.4 380.5,756.6 383,756 385.5,755.6 388,755.3 390.5,755.1 393,754.7 395.5,754.2 398,753.5 400.5,752.7 403,752 405.5,751.4 408,750.9 410.5,750.4 413,749.8 415.5,749.1 418,748.5 420.5,747.9 423,747.4 425.5,747.1 428,747 430.5,746.8 433,746.5 435.5,746.1 438,745.6 440.5,745.1 443,744.6 445.5,744.3 448,744.1 450.5,743.8 453,743.4 455.5,742.9 458,742.4 460.5,741.9 463,741.7 465.5,741.6 468,741.6 470.5,741.6 473,741.5 475.5,741.3 478,741.1 480.5,740.9 483,740.8 485.5,740.7 488,740.6 490.5,740.5 493,740.3 495.5,740 498,739.8 500.5,739.6 503,739.5 505.5,739.5 508,739.6 510.5,739.5 513,739.5 515.5,739.4 518,739.3 520.5,739.3 523,739.4 525.5,739.4 528,739.4 530.5,739.4 533,739.3 535.5,739.2 538,739.1 540.5,739 543,739 545.5,738.9 548,738.9 550.5,738.8 553,738.8 555.5,738.7 558,738.6 560.5,738.6 563,738.5 565.5,738.5 567.2,738.4 567.2,738.4 565.5,738.6 563,738.9 560.5,739.2 558,739.5 555.5,739.8 553,740.1 550.5,740.4 548,740.7 545.5,740.9 543,741.1 540.5,741.4 538,741.7 535.5,742 533,742.2 530.5,742.4 528,742.6 525.5,742.9 523,743.3 520.5,743.6 518,744 515.5,744.3 513,744.5 510.5,744.7 508,744.9 505.5,745.2 503,745.5 500.5,745.8 498,745.9 495.5,746 493,746.2 490.5,746.5 488,747 485.5,747.5 483,747.9 480.5,748.2 478,748.5 475.5,748.8 473,749.2 470.5,749.6 468,750 465.5,750.2 463,750.4 460.5,750.4 458,750.7 455.5,751.2 453,751.8 450.5,752.4 448,752.9 445.5,753.3 443,753.9 440.5,754.5 438,755.3 435.5,756.1 433,756.7 430.5,757.2 428,757.5 425.5,757.9 423,758.3 420.5,758.9 418,759.6 415.5,760.2 413,760.8 410.5,761.3 408,762 405.5,762.8 403,763.9 400.5,764.9 398,765.7 395.5,766.3 393,766.7 390.5,767.2 388,767.9 385.5,768.6 383,769.3 380.5,769.9 378,770.3 375.5,770.7 373,771.3 370.5,772.1 368,773.5 365.5,774.8 363,776 360.5,776.9 358,777.9 355.5,778.9 353,780.1 350.5,781.4 348,782.4 345.5,783.2 343,783.9 340.5,784.6 338,785.2 335.5,786 333,787.3 330.5,788.8 328,790.1 325.5,791.3 323,792.6 320.5,794.2 318,795.8 315.5,797.4 313,798.7 310.5,799.7 308,800.6 305.5,801.6 303,802.8 300.5,804.2 298,805.7 295.5,807.2 293,808.5 290.5,809.9 288,811.6 285.5,813.6 283,816.3 280.5,818.8 278,821 275.5,822.9 273,824.8 270.5,826.8 268,829.1 265.5,831.4 263,833.5 260.5,835.3 258,837.1 255.5,839 253,841.2 250.5,843.6 248,846.1 245.5,848.4 243,850.4 240.5,852.6 238,854.9 235.5,857.3 233,859.9 230.5,862.4 228,865.1 225.5,867.6 223,870 220.5,872.6 218,875.8 215.5,879.3 213,882.8 210.5,886.1 208,889.7 205.5,893.7 203,897.9 200.5,902.3 198,906.8 195.5,911.2 193,915.4 190.5,919.3 188,923.1 185.5,926.9 183,930.9 180.5,935.9 178,941.4 175.5,946.8 173,951.1 170.5,955.6 168,960.4 165.5,965.9 163,971.4 160.5,976.7 158,982.5 155.5,988.2 153,994 150.5,1000.5 148,1007.1 145.5,1013.5 143,1020.1 140.5,1026.5 138,1033 135.5,1043 133,1052 130.5,1060.4 128,1069 125.5,1077.8 123,1086.7 120.5,1096.2 118,1106.1 115.5,1117.4 113,1128.8 110.5,1145 108,1160.2 105.5,1178.1 103,1199.8" fill="#1a70b0" fill-opacity="0.2" stroke="none"/>
<polygon points="103,1199.8 105.5,1185.1 108,1166.7 110.5,1149 113,1135.7 115.5,1123.1 118,1111.6 120.5,1100.3 123,1088 125.5,1075.6 128,1065 130.5,1054.9 133,1045.8 135.5,1037.6 138,1029.9 140.5,1020.5 143,1012.8 145.5,1004.3 148,995.8 150.5,987.6 153,980.2 155.5,974.9 158,972.3 160.5,969.6 163,964.5 165.5,959 168,954 170.5,950.2 173,946.9 175.5,943.5 178,939.1 180.5,932.2 183,925.1 185.5,917.9 188,912.3 190.5,907 193,902 195.5,897.6 198,892.4 200.5,886 203,879.6 205.5,873.2 208,869.5 210.5,866.6 213,864.2 215.5,862.5 218,860.5 220.5,858.1 223,856.4 225.5,854 228,851.7 230.5,849.5 233,847.7 235.5,846.1 238,844.3 240.5,841.5 243,838.2 245.5,834.9 248,831.9 250.5,829.5 253,827.8 255.5,826.4 258,824.4 260.5,821.7 263,818.3 265.5,814.8 268,811.8 270.5,809.2 273,806.9 275.5,804.8 278,802.4 280.5,799.3 283,795.8 285.5,792.8 288,790.4 290.5,788.7 293,787.4 295.5,785.5 298,783.4 300.5,780.8 303,779 305.5,777.8 308,776.9 310.5,776.5 313,776.3 315.5,775.8 318,774.7 320.5,773 323,771.2 325.5,769.8 328,769 330.5,768.7 333,768.7 335.5,768.6 338,768 340.5,767.1 343,765.8 345.5,764.9 348,764.4 350.5,764.5 353,764.9 355.5,764.9 358,764.4 360.5,763.4 363,762.3 365.5,761.5 368,761 370.5,759.8 373,758.3 375.5,756.7 378,754.8 380.5,753.2 383,752.2 385.5,751.5 388,751.2 390.5,751.2 393,751 395.5,750.6 398,749.8 400.5,748.7 403,748.1 405.5,747.6 408,747.3 410.5,747.1 413,746.8 415.5,746.1 418,745.3 420.5,744.5 423,743.8 425.5,743.2 428,742.9 430.5,742.7 433,742.4 435.5,742 438,741.7 440.5,741.6 443,741.6 445.5,741.6 448,741.8 450.5,741.6 453,741.3 455.5,740.8 458,740.1 460.5,739.5 463,739.2 465.5,739.2 468,739.3 470.5,739.4 473,739.5 475.5,739.4 478,739.2 480.5,738.9 483,738.8 485.5,738.7 488,738.7 490.5,738.6 493,738.3 495.5,737.9 498,737.5 500.5,737.2 503,737.2 505.5,737.3 508,737.5 510.5,737.7 513,737.8 515.5,737.9 518,737.9 520.5,738 523,738.2 525.5,738.4 528,738.6 530.5,738.7 533,738.7 535.5,738.6 538,738.5 540.5,738.5 543,738.5 545.5,738.5 548,738.5 550.5,738.5 553,738.4 555.5,738.4 558,738.4 560.5,738.4 563,738.4 565.5,738.4 567.2,738.4 567.2,738.4 565.5,738.6 563,738.9 560.5,739.2 558,739.5 555.5,739.8 553,740.1 550.5,740.4 548,740.8 545.5,741.1 543,741.4 540.5,741.7 538,742 535.5,742.3 533,742.7 530.5,743.1 528,743.3 525.5,743.4 523,743.5 520.5,743.6 518,743.7 515.5,744 513,744.2 510.5,744.4 508,744.5 505.5,744.7 503,744.9 500.5,745.3 498,746 495.5,746.7 493,747.2 490.5,747.6 488,747.9 485.5,748.4 483,749 480.5,749.5 478,750 475.5,750.3 473,750.5 470.5,750.8 468,751.4 465.5,752.2 463,752.9 460.5,753.5 458,754 455.5,754.5 453,755.1 450.5,755.8 448,756.6 445.5,756.9 443,757 440.5,756.9 438,756.8 435.5,757.1 433,758.3 430.5,759.6 428,760.8 425.5,761.8 423,762.7 420.5,763.8 418,765.1 415.5,766.6 413,768.1 410.5,769.1 408,769.7 405.5,770 403,770.4 400.5,771.2 398,772.7 395.5,774.3 393,775.8 390.5,776.9 388,778 385.5,779.5 383,781.4 380.5,783.6 378,786 375.5,788.4 373,790.3 370.5,791.9 368,793.4 365.5,794.3 363,795.4 360.5,796.3 358,796.9 355.5,797.2 353,797.7 350.5,798.8 348,800.9 345.5,803.6 343,806 340.5,807.7 338,808.5 335.5,809.2 333,810.2 330.5,811.4 328,812.5 325.5,813 323,812.9 320.5,812.9 318,813.4 315.5,814.8 313,816.9 310.5,819.1 308,821 305.5,822.3 303,823.5 300.5,825.6 298,829.4 295.5,833.5 293,837.1 290.5,839.2 288,840.3 285.5,841.3 283,842.9 280.5,845.7 278,848.9 275.5,852 273,854.7 270.5,857.3 268,860.2 265.5,863.8 263,868.6 260.5,873.5 258,877.8 255.5,880.8 253,882.9 250.5,884.9 248,887.7 245.5,890.8 243,893.7 240.5,896.1 238,897.8 235.5,899 233,900.9 230.5,903.9 228,907.6 225.5,910.9 223,913.5 220.5,915 218,917.8 215.5,921.3 213,925.4 210.5,930.1 208,933.8 205.5,936.6 203,941.1 200.5,945.9 198,952.3 195.5,959.2 193,965.8 190.5,972 188,976.9 185.5,981.3 183,987.4 180.5,995.3 178,1003.8 175.5,1010.3 173,1014.7 170.5,1017.2 168,1018.9 165.5,1021.5 163,1025.9 160.5,1031.2 158,1034.8 155.5,1037.8 153,1042.5 150.5,1048.4 148,1055 145.5,1062.7 143,1071.2 140.5,1079.3 138,1088.9 135.5,1096.2 133,1103.4 130.5,1111.5 128,1121 125.5,1131.2 123,1140.1 120.5,1148.2 118,1155.1 115.5,1162.5 113,1171.2 110.5,1180.5 108,1188.8 105.5,1196.1 103,1199.8" fill="#f58a3c" fill-opacity="0.2" stroke="none"/>
<polygon points="103,1199.8 105.5,1187.5 108,1171.9 110.5,1156.9 113,1145.1 115.5,1133.3 118,1124 120.5,1117.6 123,1112.3 125.5,1106.7 128,1100.7 130.5,1094.3 133,1087.8 135.5,1082.2 138,1077.6 140.5,1073.6 143,1070.4 145.5,1066.7 148,1062.6 150.5,1056.8 153,1047.4 155.5,1039.2 158,1032.1 160.5,1026.2 163,1019.9 165.5,1012.6 168,1006.2 170.5,1002.6 173,999.9 175.5,1000 178,997.7 180.5,993.9 183,989.9 185.5,984.9 188,980.7 190.5,976.5 193,972.7 195.5,970.1 198,968.2 200.5,965.3 203,959.1 205.5,952 208,944.6 210.5,937.9 213,931.9 215.5,928.6 218,926.4 220.5,923.4 223,919 225.5,913.3 228,906.8 230.5,901.3 233,896.1 235.5,891.2 238,886.5 240.5,882 243,878.5 245.5,874.7 248,871.8 250.5,869 253,866.2 255.5,862.1 258,857.8 260.5,855.3 263,854.8 265.5,853.4 268,851.5 270.5,849.5 273,847.9 275.5,847 278,846.4 280.5,845.7 283,844.6 285.5,842.8 288,839 290.5,835.1 293,832 295.5,829.7 298,827.7 300.5,825.5 303,822.7 305.5,820.6 308,818.3 310.5,816.3 313,814.9 315.5,813.8 318,812.6 320.5,810.8 323,808.2 325.5,804.9 328,801.4 330.5,798.2 333,795 335.5,792.7 338,792.7 340.5,792.1 343,789.8 345.5,787.2 348,784.8 350.5,782.8 353,781.4 355.5,780.3 358,779.1 360.5,777.4 363,775.3 365.5,774.4 368,773.5 370.5,772.9 373,772.8 375.5,771.7 378,770.5 380.5,769 383,767.1 385.5,765.9 388,765.3 390.5,765.4 393,765.9 395.5,765 398,763.9 400.5,762.2 403,759.5 405.5,756.6 408,754.5 410.5,753 413,751.7 415.5,751.6 418,751.7 420.5,751.5 423,751 425.5,750.5 428,750 430.5,749 433,748.4 435.5,748.9 438,749.2 440.5,749.2 443,748.6 445.5,747.1 448,746 450.5,745.4 453,745.7 455.5,745.8 458,745.7 460.5,745 463,743.6 465.5,742.2 468,741.1 470.5,740.2 473,739.6 475.5,738.9 478,739 480.5,738.9 483,738.7 485.5,738.7 488,738.8 490.5,739 493,738.9 495.5,738.7 498,738.3 500.5,737.8 503,737.6 505.5,737.5 508,737.6 510.5,737.8 513,738.1 515.5,738.4 518,738.5 520.5,738.6 523,738.7 525.5,738.9 528,739.2 530.5,739.5 533,739.6 535.5,739.7 538,739.5 540.5,739.4 543,739.2 545.5,739.1 548,739 550.5,739 553,738.9 555.5,738.8 558,738.7 560.5,738.6 563,738.5 565.5,738.4 567.2,738.4 567.2,738.4 565.5,738.9 563,739.6 560.5,740.3 558,741 555.5,741.7 553,742.6 550.5,743.4 548,744.2 545.5,744.9 543,745.5 540.5,746.2 538,746.9 535.5,747.7 533,748.4 530.5,749 528,749.3 525.5,749.4 523,749.8 520.5,750.4 518,751 515.5,751.4 513,751.6 510.5,751.7 508,751.9 505.5,752.2 503,752.7 500.5,753 498,753.2 495.5,753.2 493,753.3 490.5,753.6 488,753.9 485.5,754.4 483,754.9 480.5,755.2 478,755.3 475.5,755.5 473,756.6 470.5,758 468,759.3 465.5,760.5 463,761.4 460.5,762 458,763 455.5,764.1 453,765.5 450.5,767 448,769.1 445.5,771.4 443,773.3 440.5,774.4 438,775.6 435.5,777.1 433,778.6 430.5,780.6 428,782.1 425.5,782.4 423,782.4 420.5,782.8 418,783.5 415.5,784 413,784.6 410.5,786 408,787.5 405.5,790 403,793.8 400.5,798 398,801.5 395.5,804.3 393,806.5 390.5,807.2 388,807.7 385.5,808.6 383,809.7 380.5,811 378,811.7 375.5,812 373,812.7 370.5,813 368,814 365.5,815.2 363,816 360.5,817.9 358,819.8 355.5,822.2 353,825.1 350.5,828.4 348,831.3 345.5,833.5 343,834.8 340.5,836 338,836.4 335.5,837.4 333,840.9 330.5,844.8 328,847.6 325.5,849.9 323,852.4 320.5,855.5 318,859.6 315.5,864 313,867.8 310.5,870.6 308,872.6 305.5,874.5 303,877.1 300.5,881.4 298,886.2 295.5,890.5 293,893.9 290.5,896.8 288,900.5 285.5,904.7 283,908.4 280.5,912.2 278,914.7 275.5,916.1 273,917.1 270.5,918.4 268,920.5 265.5,923.1 263,925.1 260.5,925.9 258,928.4 255.5,932.7 253,937 250.5,940.3 248,943.5 245.5,946.5 243,949.8 240.5,952.9 238,957.5 235.5,963 233,968.9 230.5,974.6 228,979.2 225.5,983.8 223,987.7 220.5,991.6 218,995.7 215.5,999.8 213,1004.5 210.5,1010.3 208,1015.4 205.5,1021 203,1027.7 200.5,1035.2 198,1039.9 195.5,1042.6 193,1044.1 190.5,1045 188,1045.7 185.5,1047.5 183,1052.1 180.5,1057.1 178,1061.9 175.5,1064.1 173,1062.5 170.5,1063.3 168,1065.6 165.5,1072.3 163,1080.9 160.5,1088.3 158,1094.1 155.5,1099.6 153,1105.4 150.5,1112.6 148,1116.7 145.5,1119.8 143,1122.3 140.5,1124 138,1126.1 135.5,1128.9 133,1133.3 130.5,1139.1 128,1145 125.5,1150.5 123,1155.4 120.5,1159.8 118,1163.2 115.5,1166.3 113,1171.6 110.5,1176.4 108,1184.6 105.5,1193.6 103,1199.8" fill="#2f9e5a" fill-opacity="0.2" stroke="none"/>
<polygon points="103,1199.8 105.5,1192.9 108,1185.7 110.5,1175.1 113,1163.7 115.5,1152.3 118,1141.1 120.5,1131.8 123,1123.5 125.5,1115.6 128,1110.9 130.5,1106.7 133,1102 135.5,1097.5 138,1092.9 140.5,1087.9 143,1082.2 145.5,1077.5 148,1073.7 150.5,1070.2 153,1067.3 155.5,1061.9 158,1052.8 160.5,1042.3 163,1029.7 165.5,1021.8 168,1017.1 170.5,1014.4 173,1012.1 175.5,1007.3 178,1002.3 180.5,996.5 183,989.4 185.5,982.5 188,977.3 190.5,972.5 193,968.2 195.5,963.9 198,958 200.5,950.2 203,943.8 205.5,938 208,933 210.5,929.4 213,926.7 215.5,922.3 218,917.8 220.5,915.6 223,912.8 225.5,909.8 228,905.4 230.5,901.5 233,898 235.5,894.2 238,889.4 240.5,883.3 243,875.5 245.5,867.6 248,863.2 250.5,859.9 253,859 255.5,858.1 258,856.4 260.5,853.9 263,851.2 265.5,848.9 268,849.2 270.5,850 273,850.9 275.5,849.7 278,845.8 280.5,841.2 283,836.4 285.5,831.9 288,828 290.5,824.9 293,822.1 295.5,819.1 298,815.5 300.5,811.7 303,807.7 305.5,803.7 308,800.3 310.5,797.6 313,796.6 315.5,795 318,792.8 320.5,790.7 323,788.9 325.5,787.3 328,786.2 330.5,784.7 333,783.1 335.5,781.1 338,778.8 340.5,776.3 343,773.9 345.5,772.7 348,772.1 350.5,771.8 353,771.3 355.5,770.3 358,768.9 360.5,767.3 363,766 365.5,764.9 368,764.2 370.5,763.5 373,762.6 375.5,761.3 378,759.6 380.5,757.8 383,757.3 385.5,757.5 388,758.1 390.5,759 393,759.9 395.5,760.4 398,758.2 400.5,755.8 403,753.5 405.5,751.9 408,751.1 410.5,750.3 413,748.8 415.5,746.4 418,743.7 420.5,741.3 423,740 425.5,739.1 428,738.5 430.5,737.8 433,737.1 435.5,736.4 438,736.4 440.5,736.4 443,736.7 445.5,737.3 448,738.2 450.5,738.9 453,739.3 455.5,739.5 458,739.5 460.5,739.5 463,739.1 465.5,738.7 468,738.5 470.5,738.3 473,737.9 475.5,737.4 478,737.1 480.5,736.9 483,736.9 485.5,737 488,737.2 490.5,737.2 493,737.1 495.5,736.8 498,736.4 500.5,736.2 503,736.3 505.5,736.6 508,736.8 510.5,736.9 513,737 515.5,737 518,737 520.5,737.2 523,737.5 525.5,738 528,738.4 530.5,738.6 533,738.6 535.5,738.5 538,738.5 540.5,738.5 543,738.5 545.5,738.6 548,738.6 550.5,738.5 553,738.5 555.5,738.4 558,738.4 560.5,738.4 563,738.4 565.5,738.4 567.2,738.4 567.2,738.4 565.5,738.8 563,739.4 560.5,740 558,740.5 555.5,741 553,741.6 550.5,742.1 548,742.8 545.5,743.4 543,744 540.5,744.5 538,745 535.5,745.6 533,746.3 530.5,747.2 528,747.7 525.5,748 523,748 520.5,748 518,748.1 515.5,748.3 513,748.6 510.5,748.8 508,748.8 505.5,748.6 503,748.6 500.5,748.9 498,749.4 495.5,750 493,750.5 490.5,750.7 488,750.9 485.5,751.1 483,751.5 480.5,752 478,752.4 475.5,752.6 473,752.7 470.5,752.7 468,752.9 465.5,753.3 463,754 460.5,754.7 458,755.4 455.5,756.1 453,756.7 450.5,757.5 448,758.6 445.5,759.8 443,760.6 440.5,760.9 438,760.8 435.5,760.6 433,761.5 430.5,763.1 428,764.9 425.5,766.5 423,767.8 420.5,769 418,771 415.5,774 413,777.3 410.5,780.2 408,782.4 405.5,784 403,786 400.5,788.3 398,791.1 395.5,794 393,794.4 390.5,794.4 388,793.8 385.5,793.1 383,793 380.5,793.7 378,795.7 375.5,797.7 373,799.1 370.5,800 368,800.8 365.5,801.9 363,803.4 360.5,805 358,806.4 355.5,807.3 353,807.8 350.5,808.4 348,809.6 345.5,811.4 343,813.6 340.5,816.2 338,818.4 335.5,820.4 333,822.5 330.5,825.3 328,828.3 325.5,830.5 323,832.1 320.5,832.8 318,833.9 315.5,836 313,838.7 310.5,842 308,847.1 305.5,851.9 303,856.3 300.5,860.2 298,865 295.5,870.8 293,876.9 290.5,882.7 288,887.5 285.5,891.4 283,895 280.5,899.1 278,903.3 275.5,907.5 273,909.6 270.5,909.1 268,908.2 265.5,907.9 263,910.5 260.5,914.5 258,918.8 255.5,922.3 253,924.3 250.5,925.7 248,929.1 245.5,933.3 243,940.7 240.5,947.6 238,952 235.5,954.9 233,957.4 230.5,960.7 228,965.2 225.5,970.6 223,974.3 220.5,977.1 218,979.2 215.5,984.3 213,990.4 210.5,995.3 208,1000.4 205.5,1005.1 203,1008.9 200.5,1012.3 198,1017.2 195.5,1021.7 193,1025.9 190.5,1030.6 188,1034.9 185.5,1038.5 183,1043.4 180.5,1049.5 178,1056.1 175.5,1063.3 173,1070.4 170.5,1073.8 168,1075.5 165.5,1078 163,1083.4 160.5,1094.4 158,1104.2 155.5,1112.9 153,1117.4 150.5,1118.5 148,1119.6 145.5,1121.6 143,1125.2 140.5,1130.8 138,1136.2 135.5,1141 133,1145.2 130.5,1148.9 128,1152 125.5,1155.5 123,1162.3 120.5,1169.2 118,1175.1 115.5,1180.1 113,1185.5 110.5,1191.2 108,1196.4 105.5,1198.2 103,1199.8" fill="#f26a52" fill-opacity="0.2" stroke="none"/>
<polygon points="103,1199.8 105.5,1183.2 108,1164.8 110.5,1152.1 113,1141 115.5,1130.4 118,1120.3 120.5,1111.3 123,1102.1 125.5,1092.6 128,1082 130.5,1073.4 133,1067.9 135.5,1063.8 138,1060.4 140.5,1056.5 143,1053.7 145.5,1050.6 148,1045.5 150.5,1040.9 153,1036.6 155.5,1032 158,1024.5 160.5,1014.7 163,1003.1 165.5,992 168,985.3 170.5,982.1 173,979.6 175.5,977.2 178,974.2 180.5,970.1 183,964 185.5,957.9 188,953.1 190.5,949.2 193,945.8 195.5,942.6 198,938.6 200.5,934.4 203,931 205.5,928.1 208,925.6 210.5,922.9 213,920.6 215.5,919.2 218,917.2 220.5,914.8 223,912.7 225.5,910.7 228,909.4 230.5,906 233,902.2 235.5,897.7 238,892.3 240.5,886.4 243,882.4 245.5,879.1 248,876.9 250.5,875.9 253,875.1 255.5,873.8 258,870.3 260.5,866.4 263,861.9 265.5,857.5 268,855.9 270.5,854.6 273,852.9 275.5,850.6 278,847.6 280.5,844.1 283,841.4 285.5,839 288,837.3 290.5,836.1 293,834.2 295.5,830.6 298,826.5 300.5,823.4 303,820.8 305.5,819 308,818.1 310.5,817.2 313,815.8 315.5,814.1 318,811.8 320.5,809.2 323,806.6 325.5,804.5 328,802.9 330.5,801.2 333,799.2 335.5,796.7 338,794 340.5,791.4 343,789.1 345.5,787.4 348,786.1 350.5,784.8 353,782.9 355.5,780.5 358,777.6 360.5,773.5 363,769.6 365.5,766.8 368,764.6 370.5,762.3 373,760 375.5,757.7 378,755.3 380.5,753.1 383,752.3 385.5,752 388,752.1 390.5,752 393,752 395.5,751.7 398,751.1 400.5,750.7 403,750.1 405.5,749.8 408,749.4 410.5,748.7 413,747.5 415.5,746.1 418,744.6 420.5,743.9 423,743.7 425.5,743.9 428,744.2 430.5,744.3 433,743.8 435.5,743.2 438,742.5 440.5,741.9 443,741.3 445.5,740.9 448,740.6 450.5,740.6 453,740.4 455.5,740.1 458,739.8 460.5,739.7 463,739.6 465.5,739.7 468,739.7 470.5,739.7 473,739.5 475.5,739.3 478,739.2 480.5,739.3 483,739.5 485.5,739.8 488,740 490.5,740 493,739.7 495.5,739.3 498,738.9 500.5,738.7 503,738.8 505.5,739 508,739 510.5,739 513,738.8 515.5,738.8 518,738.8 520.5,739 523,739.4 525.5,739.7 528,739.9 530.5,739.9 533,739.7 535.5,739.6 538,739.5 540.5,739.5 543,739.5 545.5,739.4 548,739.2 550.5,739 553,738.8 555.5,738.6 558,738.6 560.5,738.6 563,738.5 565.5,738.5 567.2,738.4 567.2,738.4 565.5,738.8 563,739.5 560.5,740.1 558,740.8 555.5,741.5 553,742.3 550.5,743.1 548,743.8 545.5,744.5 543,745.1 540.5,745.8 538,746.5 535.5,747.2 533,747.8 530.5,748.3 528,748.7 525.5,749.2 523,749.7 520.5,750.4 518,750.9 515.5,751.2 513,751.3 510.5,751.5 508,751.8 505.5,752.2 503,752.6 500.5,752.8 498,752.8 495.5,752.7 493,752.7 490.5,753.1 488,753.7 485.5,754.2 483,754.6 480.5,754.7 478,754.8 475.5,755 473,755.3 470.5,755.7 468,756 465.5,755.9 463,755.6 460.5,755.4 458,756.1 455.5,757.3 453,758.7 450.5,760 448,761.2 445.5,762.9 443,764.4 440.5,766.2 438,768.2 435.5,769.9 433,771.2 430.5,771.9 428,772.1 425.5,772.3 423,772.8 420.5,773.8 418,774.8 415.5,776 413,776.9 410.5,777.9 408,779.2 405.5,781.2 403,783.5 400.5,785.7 398,787 395.5,787.5 393,787.9 390.5,788.5 388,789.7 385.5,790.9 383,791.9 380.5,792.3 378,793.1 375.5,794.1 373,795.9 370.5,798.7 368,802.3 365.5,805.6 363,808.9 360.5,812.4 358,816.1 355.5,818.9 353,822.1 350.5,825.1 348,827.4 345.5,829 343,830.3 340.5,831.9 338,834.4 335.5,837.5 333,840.7 330.5,843.4 328,845.5 325.5,847.5 323,850 320.5,853.2 318,856.8 315.5,860 313,862.4 310.5,864.4 308,866.1 305.5,868.3 303,871.6 300.5,875.6 298,879.6 295.5,884.3 293,888.5 290.5,891.7 288,895.4 285.5,900.1 283,905 280.5,908.8 278,910.9 275.5,912.1 273,913.7 270.5,916.2 268,919.4 265.5,922.4 263,926.8 260.5,930 258,932.3 255.5,935.4 253,938.3 250.5,942 248,945.8 245.5,949.1 243,951.5 240.5,953.6 238,957.8 235.5,962.9 233,968.1 230.5,972.7 228,975.7 225.5,975.4 223,975.3 220.5,976.1 218,978.7 215.5,982.2 213,985.6 210.5,989.3 208,992.6 205.5,995 203,997.7 200.5,1001.2 198,1005 195.5,1008 193,1009.7 190.5,1011.3 188,1013.4 185.5,1016.8 183,1021.9 180.5,1027 178,1030.2 175.5,1032.6 173,1035 170.5,1038.4 168,1042.9 165.5,1050.7 163,1061.8 160.5,1072.1 158,1080 155.5,1085.8 153,1089.4 150.5,1093.3 148,1097.2 145.5,1100.7 143,1100.8 140.5,1100.5 138,1102.1 135.5,1105 133,1109.8 130.5,1116.2 128,1124.8 125.5,1134.4 123,1142.1 120.5,1149.5 118,1155.6 115.5,1160.5 113,1165.6 110.5,1170.5 108,1176.7 105.5,1188.9 103,1199.8" fill="#7a62a6" fill-opacity="0.2" stroke="none"/>
<polyline points="103,1199.8 104,1190.4 106.3,1167.8 109.3,1145.3 113,1121.2 117.6,1100.2 122.1,1082.1 126.6,1065.6 131.1,1050.5 134.4,1040 138,1025.3 145.6,1004.3 153.1,984.7 160.6,966.7 168.1,951.7 175.6,938.1 181.7,924.6 189.2,912.6 196.7,899.5 203.5,888.5 209.5,878.8 220.1,865.3 230.6,853.2 242.6,842 254.7,832.2 265.2,823.2 275.7,814.1 286.2,805.1 298.3,797.6 310.3,791.6 322.3,785.6 334.4,779.5 340,778.1 355,772.1 370.1,766.1 385.1,762.3 400.2,758.6 415.2,754.8 430.2,751.8 445.3,748.8 460.3,746.5 475.3,745 490.4,743.5 500,742.8 520,741.5 540,740.3 555,739.3 567.2,738.4" fill="none" stroke="#1a70b0" stroke-width="2.1" stroke-linejoin="round"/>
<polyline points="103,1199.8 105.5,1190.4 110,1167.8 115.3,1145.3 120.6,1124.2 125.1,1104.7 129.6,1086.6 134.1,1070.1 138.6,1055 140.3,1047.9 145.6,1032.9 150.1,1020.8 154.6,1008.8 160.6,1001.3 166.6,989.2 172.6,980.2 177.1,971.9 180.9,960.7 184.7,950.2 190.7,939.6 196.7,927.6 201.2,915.6 205.7,905 210.2,899 212.6,895.3 220.1,884.8 229.1,878.8 238.1,871.3 247.1,862.3 256.2,851.7 265.2,839.7 274.2,829.2 283.2,820.2 292.3,812.6 301.3,802.1 310.3,797.6 322.3,792.3 334.4,789.3 340.4,787.1 349,782.6 359.5,779.6 368.6,777.4 379.1,769.1 389.6,764.6 400.2,760.1 412.2,757.1 424.2,753.3 436.2,749.5 448.3,748.8 460.3,746.5 475.3,745 490.4,742.8 500,741.3 529,740.8 550,739.5 567.2,738.4" fill="none" stroke="#ef8c42" stroke-width="2.1" stroke-linejoin="round"/>
<polyline points="103,1199.8 105.5,1190.4 110,1167.8 116.1,1148.3 122.1,1136.2 128.1,1122.7 134.1,1109.2 140.1,1098.6 146.1,1090.4 149.9,1085.9 153.6,1074.6 158.2,1062.6 162.7,1052 163.6,1047.9 168.1,1037.4 172.6,1032.9 176.4,1032.9 180.2,1025.3 186.2,1013.3 192.2,1007.3 199.7,1002.8 202.7,995.3 207.2,983.2 213.2,969.7 219.2,960.7 223.8,950.2 227.5,941.1 234.3,929.1 240.3,917.1 244.8,911.1 252.3,906.5 256.8,897.5 259.2,890.8 268.2,884.8 277.2,878.8 286.2,874.3 293.8,863.8 302.8,850.2 313.3,839.7 322.3,830.7 329.8,823.2 335.1,816.4 340,815 349,806.7 356.5,799.9 362.6,794.7 373.1,793.9 383.6,787.9 392.6,786.4 400.2,779.6 406.2,772.9 413.7,767.6 427.2,766.8 433.2,763.1 442.3,761.6 449.8,756.3 458.8,754.1 467.8,750.3 475.3,747.3 490.4,746.5 500,745 529,744.5 545,742 567.2,738.4" fill="none" stroke="#28a050" stroke-width="2.1" stroke-linejoin="round"/>
<polyline points="103,1199.8 108.5,1190.4 113,1175.3 119.1,1154.3 125.1,1136.2 131.1,1127.2 137.1,1115.2 143.9,1101.7 149.1,1096.4 154.4,1091.1 158.2,1077.6 161.2,1065.6 163.4,1055 166.6,1047.9 172.6,1041.9 176.4,1032.9 180.2,1023.8 184.7,1011.8 190.7,1001.3 196.7,990.8 201.2,978.7 207.2,968.2 213.2,959.2 217.7,948.6 225.3,941.1 231.3,930.6 237.3,920.1 241.8,911.1 244.8,902 250.2,893.8 256.2,889.3 265.2,880.3 274.2,878.8 280.2,869.8 287.7,857.7 295.3,845.7 302.8,833.7 310.3,820.2 319.3,811.1 328.3,806.6 335.9,800.6 343.4,794.6 349,791.7 359.5,785.6 370.1,781.1 380.6,776.9 395.6,776.9 404.7,767.6 412.2,763.1 419.7,756.3 427.2,752.6 434.7,748.8 445.3,748 460.3,747.3 475.3,745 490.4,743.5 500,742.8 529,742.8 545,741 567.2,738.4" fill="none" stroke="#d4263a" stroke-width="2.1" stroke-linejoin="round"/>
<polyline points="103,1199.8 104.8,1190.4 108.5,1167.8 114.5,1148.3 120.6,1130.2 125.1,1115.2 129.6,1097.1 134.1,1086.6 140.1,1078.3 145.4,1075.3 150.6,1067.1 155.2,1059.5 158.9,1049 161.2,1040 163.6,1029.8 166.6,1017.8 172.6,1008.8 180.2,998.3 186.2,986.2 192.2,977.2 199.7,968.2 207.2,962.2 213.2,953.2 219.2,947.1 228.3,941.1 234.3,930.6 240.3,920.1 247.8,912.6 255.3,906.5 261.4,897.5 265.5,889.5 274.2,880.3 283.2,872.8 292.3,863.8 298.3,853.2 304.3,845.7 313.3,836.7 322.3,829.2 331.4,821.7 340.4,813.4 349,805.2 358,796.2 364.1,787.1 371.6,779.6 380.6,773.6 391.1,769.8 400.2,767.6 409.2,763.8 418.2,760.1 430.2,757.8 439.2,754.8 448.3,750.3 460.3,748 475.3,747.3 490.4,746.5 500,745.8 529,744.3 545,742 554,740.3 567.2,738.4" fill="none" stroke="#745e9e" stroke-width="2.1" stroke-linejoin="round"/>
</g>
<line x1="103" y1="1199.8" x2="567.2" y2="738.4" stroke="#000" stroke-width="2.3" stroke-dasharray="20.5 9.25"/>
<rect x="103" y="738.4" width="464.2" height="461.4" fill="none" stroke="#000" stroke-width="2.0"/>
<path d="M103 1199.8v12.8M103 1199.8h-12.8M195.8 1199.8v12.8M103 1107.5h-12.8M288.7 1199.8v12.8M103 1015.2h-12.8M381.5 1199.8v12.8M103 923h-12.8M474.4 1199.8v12.8M103 830.7h-12.8M567.2 1199.8v12.8M103 738.4h-12.8" stroke="#000" stroke-width="2.0" fill="none"/>
<g font-size="20.6" text-anchor="middle">
<text x="103" y="1242.1">0.0</text>
<text x="195.8" y="1242.1">0.2</text>
<text x="288.7" y="1242.1">0.4</text>
<text x="381.5" y="1242.1">0.6</text>
<text x="474.4" y="1242.1">0.8</text>
<text x="567.2" y="1242.1">1.0</text>
</g>
<g font-size="20.6" text-anchor="end">
<text x="76.4" y="1207.7">0.0</text>
<text x="76.4" y="1115.4">0.2</text>
<text x="76.4" y="1023.1">0.4</text>
<text x="76.4" y="930.9">0.6</text>
<text x="76.4" y="838.6">0.8</text>
<text x="76.4" y="746.3">1.0</text>
</g>
<text x="335.1" y="1276.5" font-size="20.6" text-anchor="middle">False positive rate</text>
<text transform="translate(24.9 969.5) rotate(-90)" font-size="20.6" text-anchor="middle">True positive rate</text>
<rect x="577.3" y="889.5" width="485" height="159.5" rx="3.5" fill="#fff" stroke="#cbcbcb" stroke-width="1.7"/>
<line x1="585" y1="906.3" x2="628" y2="906.3" stroke="#1a70b0" stroke-width="2.1"/>
<text x="643.3" y="913.8" font-size="20.55">meta-prediction<tspan dy="7.3" font-size="12.2">UKBB</tspan><tspan dy="-7.3" dx="1.2"> (AUC=0.81 [0.8-0.82])</tspan></text>
<line x1="585" y1="937.1" x2="628" y2="937.1" stroke="#ef8c42" stroke-width="2.1"/>
<text x="643.3" y="944.6" font-size="20.55">meta-prediction<tspan dy="7.3" font-size="12.2">AoU</tspan><tspan dy="-7.3" dx="1.2"> (AUC=0.78 [0.75-0.81])</tspan></text>
<line x1="585" y1="967.9" x2="628" y2="967.9" stroke="#28a050" stroke-width="2.1"/>
<text x="643.3" y="975.4" font-size="20.55">PCE<tspan dy="7.3" font-size="12.2">AoU</tspan><tspan dy="-7.3" dx="1.2"> (AUC=0.72 [0.69-0.75])</tspan></text>
<line x1="585" y1="998.6" x2="628" y2="998.6" stroke="#d4263a" stroke-width="2.1"/>
<text x="643.3" y="1006.1" font-size="20.55">QRISK3<tspan dy="7.3" font-size="12.2">AoU</tspan><tspan dy="-7.3" dx="1.2"> (AUC=0.73 [0.7-0.76])</tspan></text>
<line x1="585" y1="1029.4" x2="628" y2="1029.4" stroke="#745e9e" stroke-width="2.1"/>
<text x="643.3" y="1036.9" font-size="20.55">PREVENT<tspan dy="7.3" font-size="12.2">AoU</tspan><tspan dy="-7.3" dx="1.2"> (AUC=0.73 [0.7-0.76])</tspan></text>
</svg>
</body>
</html>
